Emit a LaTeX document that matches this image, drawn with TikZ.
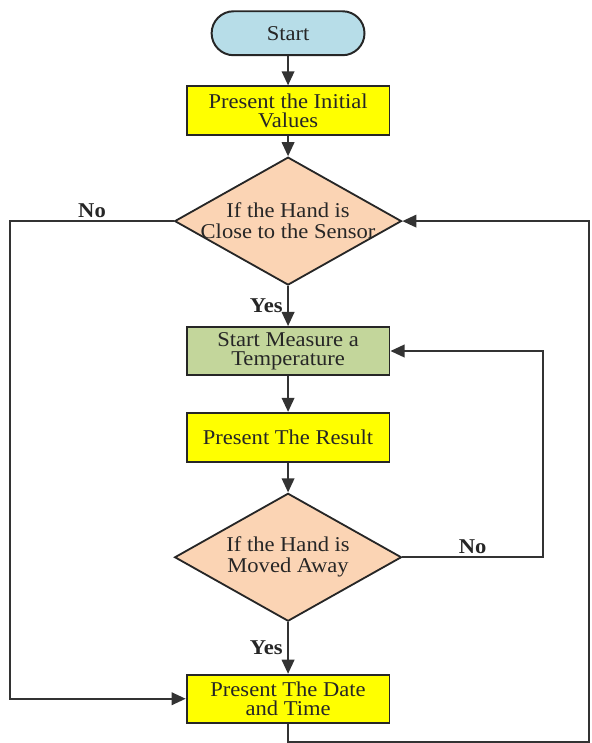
\documentclass[tikz,border=0pt]{standalone}
\usepackage{fontspec}
\setmainfont{Liberation Serif}[FakeStretch=1.07]
\usepackage{tikz}
\usepackage{xcolor}
\usetikzlibrary{shapes.geometric}
\usetikzlibrary{arrows.meta}

\definecolor{startblue}{RGB}{183,221,232}
\definecolor{boxyellow}{RGB}{255,255,0}
\definecolor{measgreen}{RGB}{195,214,155}
\definecolor{askpeach}{RGB}{251,212,180}

\begin{document}
\begin{tikzpicture}[
  font=\fontsize{15}{13.5}\selectfont,
  text=black!85,
  proc/.style={draw=black!85, line width=1.4pt, fill=boxyellow, minimum width=5.075cm, minimum height=1.225cm, align=center, inner sep=0pt},
  ask/.style={draw=black!85, line width=1.3pt, fill=askpeach, shape=diamond, minimum width=5.675cm, minimum height=3.2cm, inner sep=0pt},
  asktext/.style={align=center, font=\fontsize{15}{15}\selectfont},
  flow/.style={draw=black!80, line width=1.2pt, -{Triangle[length=10pt,width=9pt]}},
  lbl/.style={font=\fontsize{15}{15}\selectfont\bfseries}
]
\draw[opacity=0] (0,0) rectangle (14.775,18.575);

\node[draw=black!85, line width=1.4pt, fill=startblue, rounded corners=0.55cm, minimum width=3.825cm, minimum height=1.1cm] (start) at (7.2,17.75) {Start};
\node[proc] (initial) at (7.2,15.81) {Present the Initial\\Values};
\node[ask, label={[asktext]center:{If the Hand is\\Close to the Sensor}}] (close) at (7.2,13.05) {};
\node[proc, fill=measgreen, minimum height=1.2cm] (measure) at (7.2,9.8) {Start Measure a\\Temperature};
\node[proc] (result) at (7.2,7.64) {Present The Result};
\node[ask, label={[asktext]center:{If the Hand is\\Moved Away}}] (away) at (7.2,4.64) {};
\node[proc, minimum height=1.2cm] (datetime) at (7.2,1.1) {Present The Date\\and Time};

\coordinate (leftside) at (0.25,0);
\coordinate (backside) at (13.575,0);
\coordinate (corner) at (14.725,0.025);

\draw[flow] (start) -- (initial);
\draw[flow] (initial) -- (close);
\draw[flow] (close) -- node[lbl, left] {Yes} (measure);
\draw[flow] (measure) -- (result);
\draw[flow] (result) -- (away);
\draw[flow] (away) -- node[lbl, left] {Yes} (datetime);

\draw[flow] (close.west) -- node[lbl, above, inner sep=2pt] {No} (close.west -| leftside) |- (datetime.west);
\draw[flow] (away.east) -- node[lbl, above, inner sep=2pt] {No} (away.east -| backside) |- (measure.east);
\draw[flow] (datetime.south) |- (corner) |- (close.east);

\end{tikzpicture}
\end{document}
